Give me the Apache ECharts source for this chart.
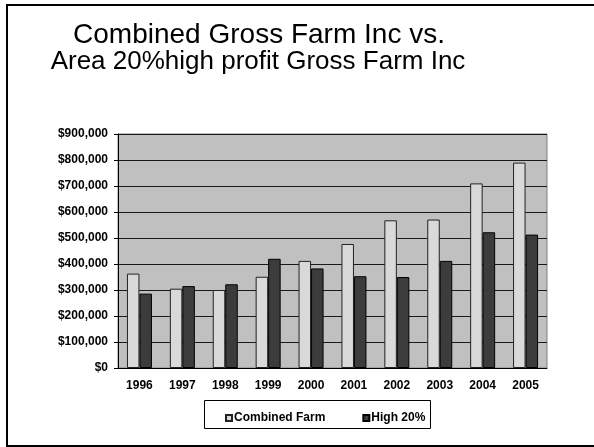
<!DOCTYPE html>
<html>
<head>
<meta charset="utf-8">
<script src="https://cdn.jsdelivr.net/npm/echarts@6/dist/echarts.min.js"></script>
<style>html,body{margin:0;padding:0;background:#fff}#c{width:594px;height:447px}</style>
</head>
<body>
<div id="c"></div>
<script>
const titleLine1 = 'Combined Gross Farm Inc vs.';
const titleLine2 = 'Area 20%high profit Gross Farm Inc';
const years = ['1996','1997','1998','1999','2000','2001','2002','2003','2004','2005'];
const combinedFarm = [363000, 305000, 300000, 351000, 412000, 477000, 568000, 571000, 710000, 790000];
const high20 = [286000, 315000, 322000, 420000, 383000, 353000, 350000, 412000, 522000, 513000];
const seriesNames = ['Combined Farm', 'High 20%'];
const yMin = 0, yMax = 900000, yStep = 100000;

const chart = echarts.init(document.getElementById('c'), null, {renderer: 'canvas'});
const fmt = v => '$' + v.toLocaleString('en-US');
chart.setOption({
  animation: false,
  backgroundColor: '#ffffff',
  graphic: [
    {type: 'rect', z: -10, shape: {x: 7, y: 5, width: 600, height: 441}, style: {fill: '#fff', stroke: '#000', lineWidth: 2}},
    {type: 'rect', z: 0, shape: {x: 204.5, y: 400.5, width: 226, height: 28}, style: {fill: '#fff', stroke: '#000', lineWidth: 1}},
    {type: 'text', x: 259, y: 35, style: {text: titleLine1, font: '28px "Liberation Sans", Arial, sans-serif', fill: '#000', textAlign: 'center', textVerticalAlign: 'middle'}},
    {type: 'text', x: 258, y: 62, style: {text: titleLine2, font: '26px "Liberation Sans", Arial, sans-serif', fill: '#000', textAlign: 'center', textVerticalAlign: 'middle'}}
  ],
  legend: {
    data: seriesNames,
    left: 220, top: 407,
    itemWidth: 6, itemHeight: 6, itemGap: 37,
    icon: 'rect',
    textStyle: {fontFamily: '"Liberation Sans", Arial, sans-serif', fontWeight: 'bold', fontSize: 12, color: '#000', padding: [0, 0, 0, -3]},
    z: 5
  },
  grid: {left: 118, right: 47, top: 134, bottom: 79, show: true, backgroundColor: '#c0c0c0', borderColor: '#808080', borderWidth: 1},
  xAxis: {
    type: 'category', data: years,
    axisLine: {lineStyle: {color: '#000', width: 1}},
    axisTick: {inside: true, length: 3, lineStyle: {color: '#000'}},
    axisLabel: {margin: 12, color: '#000', fontWeight: 'bold', fontSize: 12, fontFamily: '"Liberation Sans", Arial, sans-serif'}
  },
  yAxis: {
    type: 'value', min: yMin, max: yMax, interval: yStep,
    axisLine: {show: true, lineStyle: {color: '#000', width: 1}},
    axisTick: {show: true, length: 4, lineStyle: {color: '#000'}},
    splitLine: {lineStyle: {color: '#1a1a1a', width: 1}},
    axisLabel: {formatter: fmt, margin: 10, color: '#000', fontWeight: 'bold', fontSize: 12, fontFamily: '"Liberation Sans", Arial, sans-serif'}
  },
  series: [
    {name: seriesNames[0], type: 'bar', data: combinedFarm, barWidth: 12.5, barGap: '0%',
     itemStyle: {color: '#d9d9d9', borderColor: '#222', borderWidth: 1}},
    {name: seriesNames[1], type: 'bar', data: high20, barWidth: 12.5,
     itemStyle: {color: '#3c3c3c', borderColor: '#000', borderWidth: 1}}
  ]
});
</script>
</body>
</html>
